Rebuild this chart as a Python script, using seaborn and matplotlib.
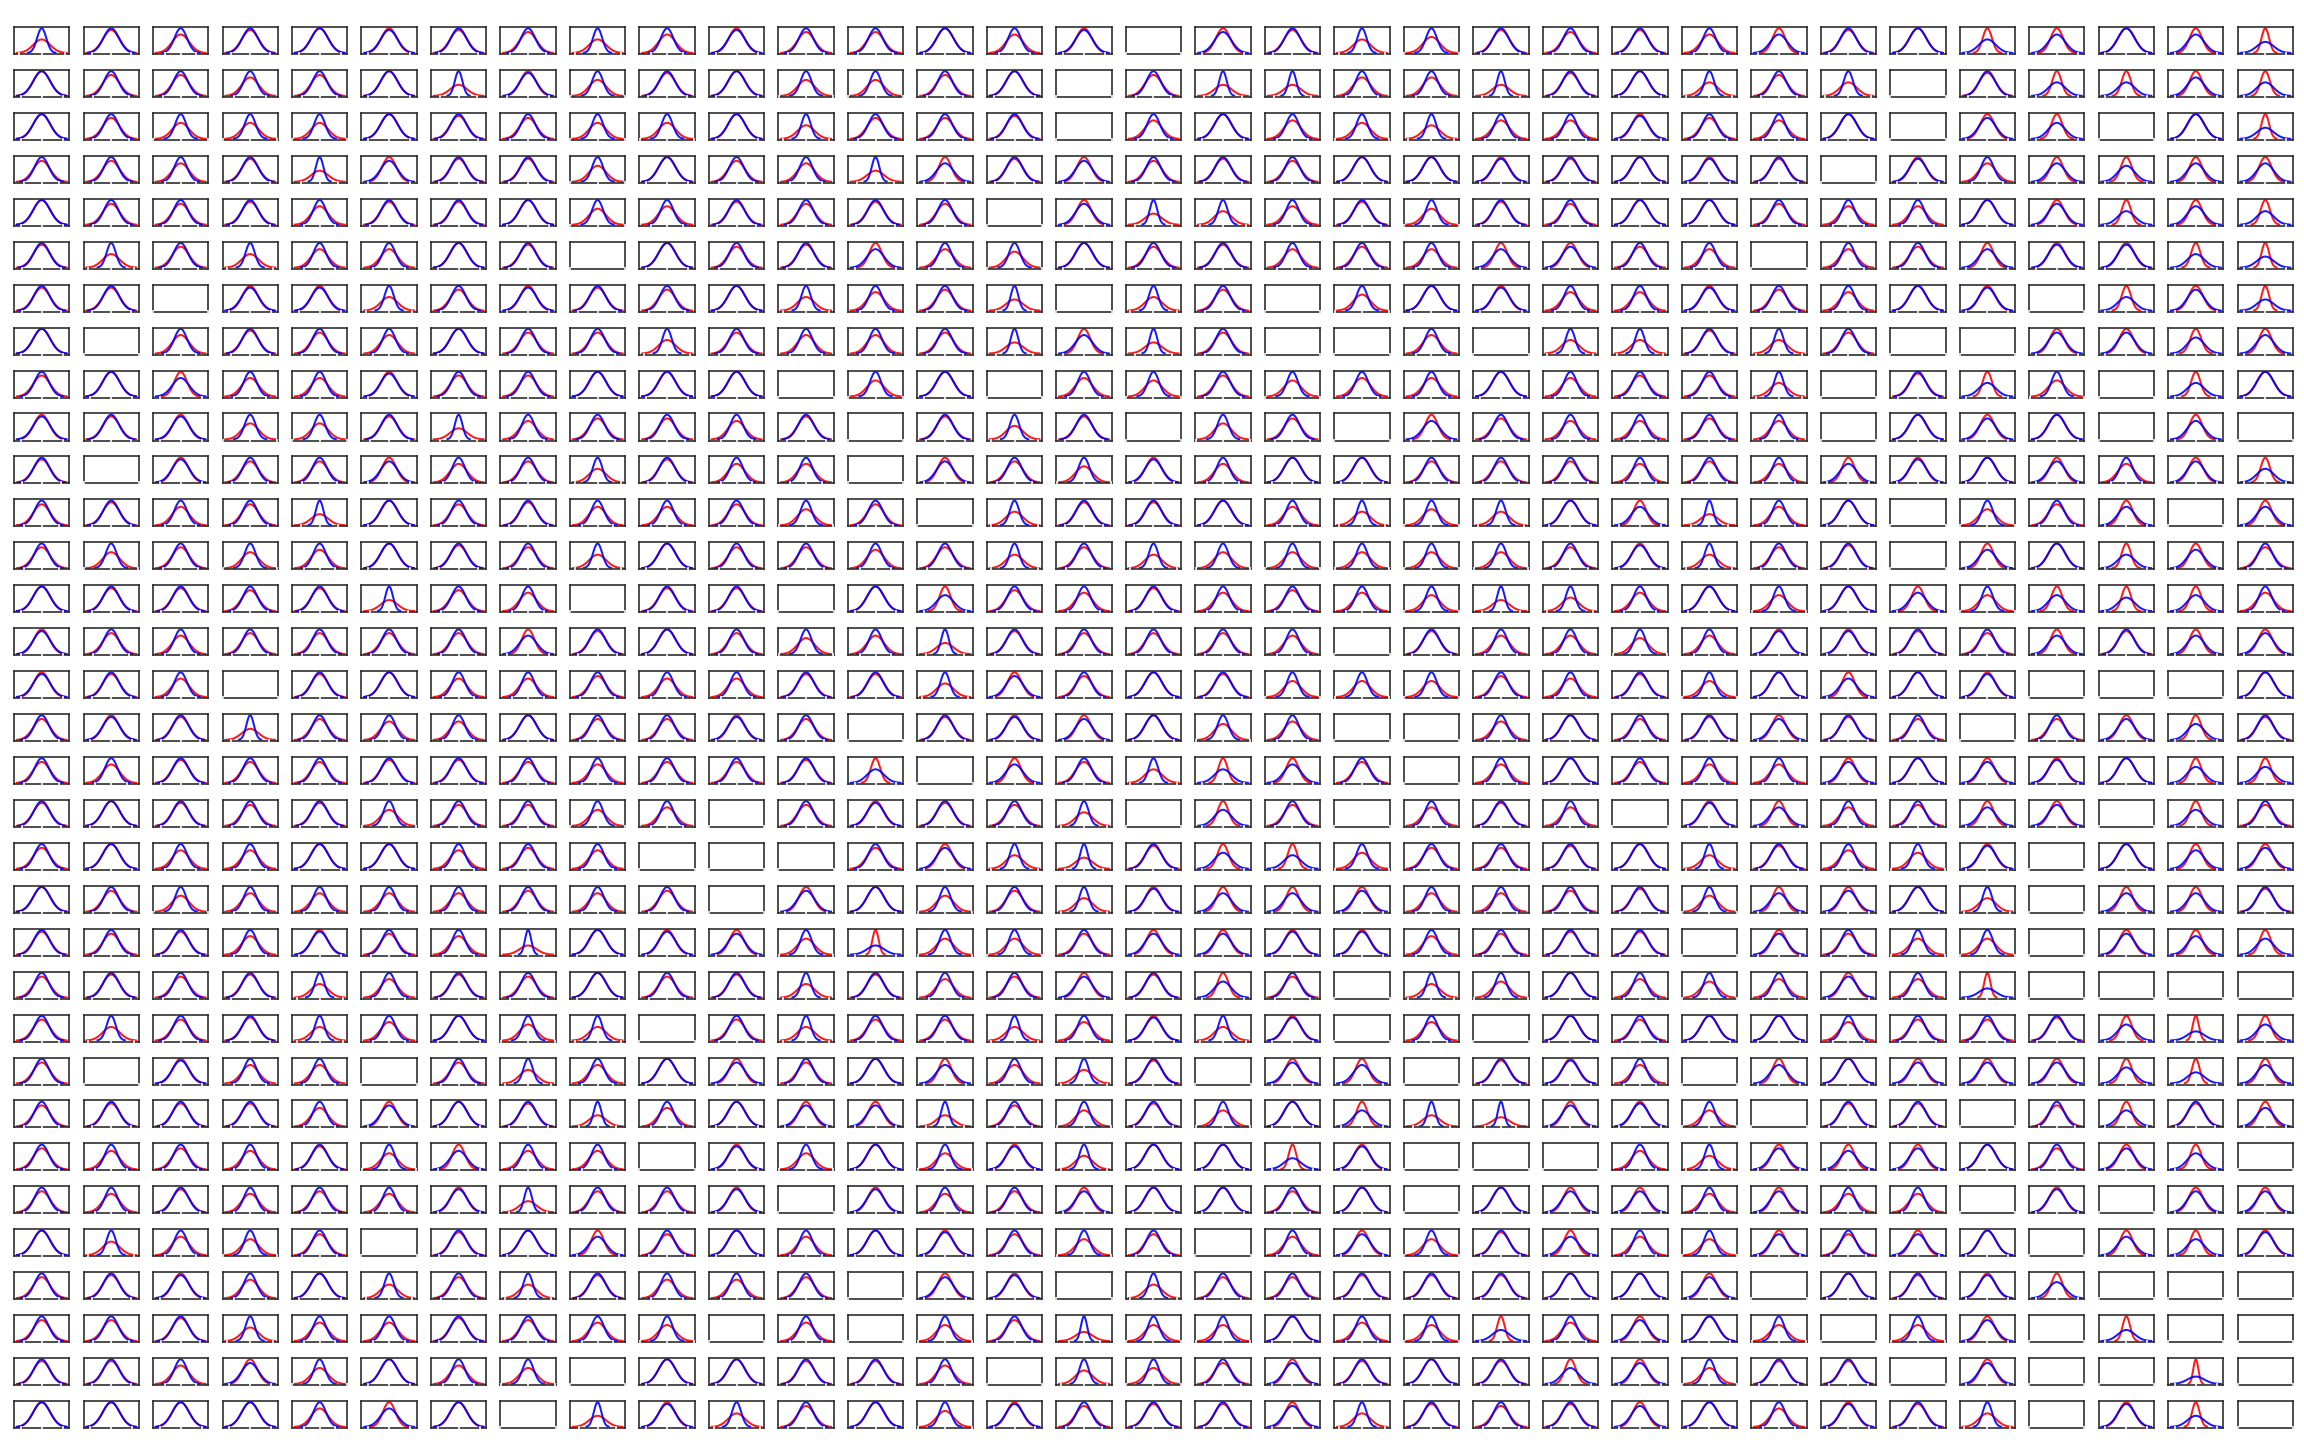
import numpy as np
import pandas as pd
import matplotlib
matplotlib.use('Agg')
import matplotlib.pyplot as plt
import seaborn as sns

# one code per panel, 33 rows of 33 panels (spaces only split the row in thirds)
# '.' empty panel, '-' both curves the same height
# lower case: blue peak is the taller one, letter = red peak relative to blue
# upper case: red peak is the taller one, letter = blue peak relative to red
panel_codes = [
    "eaca-AabecA bb-cA.Baeda bacCa-EC-CF",
    "-bbcb-fAda- ddb-.bffccf a-ebe.aEECE",
    "-bddd-abdd- ebba.c-cdec cAbc-.BD.-F",
    "bbcafBaad-b cfCaBbab--A a-Aa.AcCDCC",
    "-bbacaa-dca bab.Bfecada b--bcc-BECE",
    "aebecc-a.-b aCcd-bacbcC Bbc.cbCAAEF",
    "aa.AAebAab- ecbf.eb.d-A ccAbc-A.EBF",
    "-.cabc-bbeb ccbfCfb..c. eeaeb..BBDC",
    "b-CccAbb--- .d-.cdbdcc- cbbe.aEd.E-",
    "AaAddafcbbc a.aea.db.Cb ccbc.-B-.C.",
    "a.AbbBcbeac c.BbdAc--bb bcbcCA-BcBE",
    "bacbf-baccb db.eaa-cede -Cfc-.dbC.C",
    "bdbdc-abe-b bcbebeddddd bAeba.C-ECb",
    "-aabafbc.aa .-Dbcacbcdf ec-d-CdDEDc",
    "AbcbbbbCa-b dcfabbbc.ac cdcAAabCaCB",
    "Aac.a-ccbcc aaeBb-adddb cad-C-A...-",
    "bAafbcc-bbA b.aAB-dc..c -baBab.bBDa",
    "bcabbaabcbb aE.CbeECb.c -bccB-BA-DD",
    "a-abadbbdc. bAabe.Db.ca c.ACcbCB.Db",
    "b-cc--cbc.. .bBefaDEdbb a-eacdA.-CB",
    "-bdccccbcb. B-dbeACCBcc badCB-e.CCa",
    "abacAbcg-AB dGddbBBAAcb aa.Bbdd.BCD",
    "babaecab-ba eacbBaDb.ed -cdcBcG....",
    "bebaec-de.b ebbecAeA.c. -b--cbbaDGD",
    "b.Acc.bec-B b-Ccea.BC.a Ac.C-BBBDFC",
    "baaacB-afc- BBfbdad-Dfg BAd.aa.bDaC",
    "bcbcadCcc.A d-dAe--FA.. .ceBCB-bBD.",
    "bcacbcAfbbA .AcbB--b-.- BBcBcc.A.BB",
    "-ecdb.a-Cb- c-Abdb.cBda CcdBbB-.CDA",
    "baAc-ebeacc b.BA.ebbaaa --B.-aAD...",
    "bbaeccabcd. c.dbgdd-cdF cB-d.dB.F..",
    "aacBd-cd.-- aac.edbBa-a DBdaa.B..H.",
    "----cC-.fAe b-dAbaaBeab aB-cAae.AF.",
]
peak_levels = {'a': 0.93, 'b': 0.85, 'c': 0.75, 'd': 0.65,
               'e': 0.55, 'f': 0.45, 'g': 0.37, 'h': 0.30}
series_names = ['red', 'blue']

rows = [r.replace(' ', '') for r in panel_codes]
for r in rows:
    assert len(r) == 33, r
n_rows, n_cols = len(rows), len(rows[0])


def panel_frame(code):
    # blue sigma fixed at 1, red sigma from the peak ratio
    if code == '-':
        sig = {'red': 1.0, 'blue': 1.0}
    elif code.islower():
        sig = {'red': 1.0 / peak_levels[code], 'blue': 1.0}
    else:
        sig = {'red': peak_levels[code.lower()], 'blue': 1.0}
    parts = []
    for name in series_names:
        s = sig[name]
        x = np.linspace(-3 * s, 3 * s, 120)
        y = np.exp(-0.5 * (x / s) ** 2) / (s * np.sqrt(2 * np.pi))
        parts.append(pd.DataFrame({'x': x, 'density': y, 'series': name}))
    return pd.concat(parts, ignore_index=True)


sns.set_style("white")
plt.rcParams['axes.linewidth'] = 0.8
plt.rcParams['axes.edgecolor'] = '.15'

fig, axes = plt.subplots(n_rows, n_cols, figsize=(16, 10), dpi=144)
fig.subplots_adjust(left=0.0061, right=0.9952, top=0.9812, bottom=0.0083,
                    wspace=0.257, hspace=0.589)

for i, row in enumerate(rows):
    for j, code in enumerate(row):
        ax = axes[i, j]
        if code != '.':
            df = panel_frame(code)
            sns.lineplot(data=df, x='x', y='density', hue='series',
                         hue_order=series_names,
                         palette={'red': 'red', 'blue': 'blue'},
                         linewidth=1.0, alpha=0.9, legend=False,
                         sort=False, estimator=None, ax=ax)
        ax.set(xlabel='', ylabel='')
        ax.tick_params(axis='x', bottom=True, direction='inout', length=2.5,
                       width=0.8, color='white', labelbottom=False)
        ax.tick_params(axis='y', left=False, labelleft=False)
        ax.xaxis.set_zorder(3)

fig.savefig('out.png', dpi=144)
